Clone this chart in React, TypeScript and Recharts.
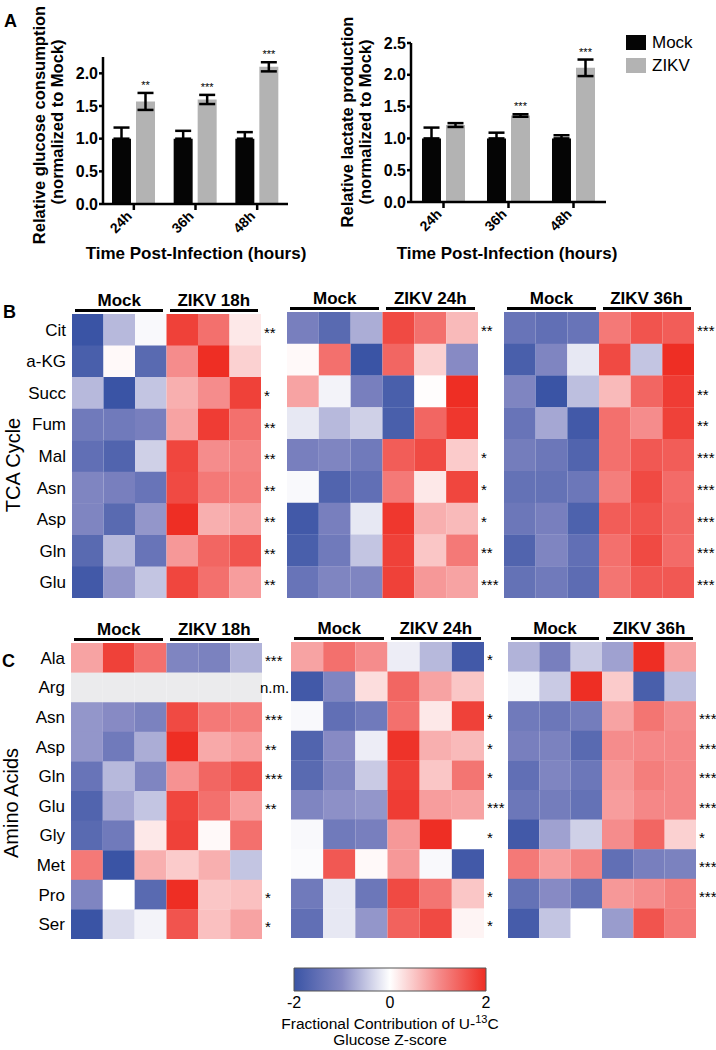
import React from 'react';
import { BarChart, Bar, XAxis, YAxis, ErrorBar, LabelList, Legend, Cell } from 'recharts';

const FONT = "'Liberation Sans', Arial, Helvetica, sans-serif";

// ---- panel A data ----
const times = ['24h', '36h', '48h'];
const glucoseMock = [1, 1, 1];
const glucoseMockErr = [0.17, 0.12, 0.1];
const glucoseZikv = [1.57, 1.6, 2.1];
const glucoseZikvErr = [0.13, 0.07, 0.07];
const glucoseStars = ['**', '***', '***'];
const glucoseTicks = [0, 0.5, 1, 1.5, 2];

const lactateMock = [1, 1, 1];
const lactateMockErr = [0.17, 0.09, 0.05];
const lactateZikv = [1.21, 1.36, 2.11];
const lactateZikvErr = [0.03, 0.02, 0.13];
const lactateStars = ['', '***', '***'];
const lactateTicks = [0, 0.5, 1, 1.5, 2, 2.5];

// ---- panel B / C heatmap z-scores (3 mock + 3 ZIKV replicates per row) ----
const tcaRows = ['Cit', 'a-KG', 'Succ', 'Fum', 'Mal', 'Asn', 'Asp', 'Gln', 'Glu'];
const aaRows = ['Ala', 'Arg', 'Asn', 'Asp', 'Gln', 'Glu', 'Gly', 'Met', 'Pro', 'Ser'];

const tca18 = [
  [-2.0, -0.6, -0.05, 1.8, 1.3, 0.2],
  [-1.8, 0.05, -1.6, 1.0, 2.0, 0.4],
  [-0.6, -2.0, -0.5, 0.7, 1.0, 1.8],
  [-1.3, -1.3, -1.2, 0.8, 1.85, 1.3],
  [-1.5, -1.7, -0.4, 1.75, 1.0, 1.1],
  [-1.1, -1.2, -1.4, 1.7, 1.2, 1.15],
  [-1.1, -1.6, -0.9, 2.0, 0.7, 0.8],
  [-1.6, -0.6, -1.4, 0.9, 1.4, 1.6],
  [-1.9, -0.9, -0.5, 1.75, 1.3, 0.85],
];
const tca18Stars = ['**', '', '*', '**', '**', '**', '**', '**', '**'];

const tca24 = [
  [-1.2, -1.6, -0.7, 1.7, 1.3, 0.6],
  [0.05, 1.3, -2.0, 1.4, 0.4, -1.0],
  [0.8, -0.1, -1.2, -1.8, 0.02, 2.0],
  [-0.2, -0.6, -0.4, -1.8, 1.4, 1.9],
  [-1.2, -1.1, -1.3, 1.5, 1.7, 0.45],
  [-0.05, -1.7, -1.5, 1.2, 0.2, 1.75],
  [-1.9, -1.2, -0.2, 1.9, 0.7, 0.6],
  [-1.8, -1.3, -0.5, 1.8, 0.5, 1.2],
  [-1.4, -1.1, -1.1, 1.8, 0.9, 0.8],
];
const tca24Stars = ['**', '', '', '', '*', '*', '*', '**', '***'];

const tca36 = [
  [-1.4, -1.5, -1.4, 1.2, 1.6, 1.5],
  [-1.8, -1.1, -0.2, 1.7, -0.5, 2.0],
  [-1.1, -2.0, -0.55, 0.6, 1.4, 1.85],
  [-1.4, -0.75, -1.9, 1.3, 1.0, 1.8],
  [-1.25, -1.35, -1.7, 1.3, 1.55, 1.5],
  [-1.45, -1.45, -1.35, 1.15, 1.7, 1.35],
  [-1.35, -1.2, -1.75, 1.5, 1.6, 1.4],
  [-1.7, -1.1, -1.5, 1.3, 1.7, 1.35],
  [-1.45, -1.3, -1.55, 1.25, 1.55, 1.55],
];
const tca36Stars = ['***', '', '**', '**', '***', '***', '***', '***', '***'];

const aa18 = [
  [0.8, 1.8, 1.3, -1.1, -1.15, -0.65],
  [null, null, null, null, null, null],
  [-0.9, -1.0, -1.15, 1.7, 1.2, 1.15],
  [-0.9, -1.3, -0.7, 2.0, 0.75, 0.85],
  [-1.4, -0.6, -1.1, 0.95, 1.4, 1.6],
  [-1.7, -0.75, -0.5, 1.75, 1.3, 0.85],
  [-1.6, -1.3, 0.2, 1.8, 0.05, 1.3],
  [1.2, -2.0, 0.7, 0.45, 0.7, -0.5],
  [-1.1, 0.0, -1.6, 2.0, 0.5, 0.55],
  [-2.0, -0.3, -0.1, 1.6, 0.55, 0.8],
];
const aa18Stars = ['***', 'n.m.', '***', '**', '***', '**', '', '', '*', '*'];

const aa24 = [
  [0.8, 1.3, 1.0, -0.15, -0.6, -1.9],
  [-1.9, -1.1, 0.3, 1.4, 0.8, 0.5],
  [-0.05, -1.5, -1.3, 1.3, 0.2, 1.8],
  [-1.7, -1.0, -0.15, 1.95, 0.7, 0.6],
  [-1.6, -1.1, -0.45, 1.8, 0.5, 1.25],
  [-1.1, -0.95, -0.9, 1.85, 0.85, 0.8],
  [-0.05, -1.3, -1.2, 0.9, 2.0, 0.0],
  [-0.03, 1.55, 0.05, 0.9, -0.05, -1.9],
  [-1.3, -0.2, -1.35, 1.7, 1.25, 0.5],
  [-1.5, -0.2, -0.9, 1.45, 1.7, 0.1],
];
const aa24Stars = ['*', '', '*', '*', '*', '***', '*', '', '*', '*'];

const aa36 = [
  [-0.65, -1.2, -0.45, -0.8, 2.0, 0.8],
  [-0.08, -0.45, 2.0, 0.45, -1.8, -0.55],
  [-1.3, -1.35, -1.25, 0.8, 1.25, 1.0],
  [-1.2, -1.15, -1.6, 1.0, 1.05, 1.05],
  [-1.5, -1.1, -1.35, 0.9, 1.15, 1.05],
  [-1.35, -1.25, -1.45, 0.85, 1.05, 1.05],
  [-1.9, -0.8, -0.4, 1.0, 1.4, 0.4],
  [1.2, 0.85, 1.1, -1.5, -1.2, -1.15],
  [-1.45, -1.0, -1.45, 0.9, 1.0, 1.15],
  [-1.85, -0.5, 0.0, -0.85, 1.6, 1.2],
];
const aa36Stars = ['', '', '***', '***', '***', '***', '*', '***', '***', ''];

const cbTicks = [-2, 0, 2];
const cbMarks = [-1.25, 0.12, 1.48];

// blue - white - red colour map, z in [-2, 2]
const STOPS: [number, number[]][] = [
  [-2, [58, 84, 165]],
  [-1, [135, 138, 196]],
  [0, [255, 255, 255]],
  [1, [245, 140, 140]],
  [2, [238, 46, 36]],
];
function zColor(v: number | null) {
  if (v === null || v === undefined) return '#ebebed';
  const z = Math.max(-2, Math.min(2, v));
  for (let i = 0; i < STOPS.length - 1; i++) {
    const [a, ca] = STOPS[i];
    const [b, cb] = STOPS[i + 1];
    if (z <= b) {
      const t = (z - a) / (b - a);
      const c = ca.map((x, k) => Math.round(x + (cb[k] - x) * t));
      return `rgb(${c[0]},${c[1]},${c[2]})`;
    }
  }
  return 'rgb(238,46,36)';
}

// ---- small text helpers ----
function T({ x, y, size, bold, anchor = 'start', children }: any) {
  const tx = anchor === 'middle' ? '-50%' : anchor === 'end' ? '-100%' : '0';
  return (
    <div
      style={{
        position: 'absolute', left: x, top: y - 0.8465 * size, fontSize: size,
        lineHeight: `${size}px`, fontWeight: bold ? 700 : 400, whiteSpace: 'nowrap',
        transform: `translateX(${tx})`,
      }}
    >
      {children}
    </div>
  );
}

function VT({ cx, cy, size, bold, children }: any) {
  return (
    <div
      style={{
        position: 'absolute', left: cx, top: cy, fontSize: size, lineHeight: `${size}px`,
        fontWeight: bold ? 700 : 400, whiteSpace: 'nowrap',
        transform: 'translate(-50%, -50%) rotate(-90deg)',
      }}
    >
      {children}
    </div>
  );
}

const box = (p: any) => (p.viewBox && p.viewBox.width !== undefined ? p.viewBox : p);

// ---- panel A bar chart ----
const axisStroke = { stroke: '#000', strokeWidth: 2.5 };

const RotTick = (p: any) => (
  <g transform={`translate(${p.x - 1},${p.y + 5})`}>
    <text transform="rotate(-45)" textAnchor="end" fontSize={14} fontWeight={700} fill="#000">
      {p.payload.value}
    </text>
  </g>
);

function BarPanel({ left, width, mock, mockErr, zikv, zikvErr, stars, domainMax, ticks, margin, yWidth, legend }: any) {
  const data = times.map((t, i) => ({
    time: t, mock: mock[i], mockErr: [0, mockErr[i]], zikv: zikv[i], zikvErr: zikvErr[i], star: stars[i],
  }));
  const starLabel = (p: any) => {
    const i = p.index ?? 0;
    if (!stars[i]) return null;
    const b = box(p);
    const ppu = b.height / zikv[i];
    return (
      <text x={b.x + b.width / 2} y={b.y - zikvErr[i] * ppu - 4} textAnchor="middle" fontSize={11} fill="#000">
        {stars[i]}
      </text>
    );
  };
  return (
    <div style={{ position: 'absolute', left, top: 0 }}>
      <BarChart width={width} height={260} data={data} margin={margin} barSize={19} barGap={5}>
        <XAxis dataKey="time" axisLine={axisStroke} tickLine={axisStroke} tickSize={6} height={40} tick={<RotTick />} interval={0} />
        <YAxis
          domain={[0, domainMax]} ticks={ticks} width={yWidth} axisLine={axisStroke} tickLine={axisStroke}
          tickSize={4} tickMargin={1} tickFormatter={(v: number) => v.toFixed(1)}
          tick={{ fontSize: 16, fontWeight: 700, fill: '#000' }} interval={0}
        />
        <Bar dataKey="mock" name="Mock" fill="#050505" isAnimationActive={false}>
          <ErrorBar dataKey="mockErr" width={8} stroke="#000" strokeWidth={2.5} direction="y" />
        </Bar>
        <Bar dataKey="zikv" name="ZIKV" fill="#b3b3b3" isAnimationActive={false}>
          <ErrorBar dataKey="zikvErr" width={8} stroke="#000" strokeWidth={2.5} direction="y" />
          <LabelList dataKey="star" content={starLabel} />
        </Bar>
        {legend && (
          <Legend
            layout="horizontal" align="center" verticalAlign="middle"
            wrapperStyle={{ position: 'absolute', left: 306, top: 31, width: 90, height: 46 }}
            content={(lp: any) => (
              <div>
                {(lp.payload || []).map((it: any) => (
                  <div key={it.value} style={{ display: 'flex', alignItems: 'center', height: 23, fontSize: 17 }}>
                    <span style={{ display: 'inline-block', width: 20, height: 15, background: it.color, marginRight: 6 }} />
                    <span>{it.value}</span>
                  </div>
                ))}
              </div>
            )}
          />
        )}
      </BarChart>
    </div>
  );
}

// ---- heatmap block ----
const cols = [0, 1, 2, 3, 4, 5];

const heatStar = (p: any) => {
  if (!p.value) return null;
  const b = box(p);
  const nm = p.value === 'n.m.';
  return (
    <text x={b.x + b.width + (nm ? -2 : 3)} y={b.y + b.height / 2 + (nm ? 5 : 8)} fontSize={15} fill="#000">
      {p.value}
    </text>
  );
};

function Heat({ left, top, width, height, names, z, stars, labelWidth = 0 }: any) {
  const data = names.map((n: string, i: number) => ({
    name: n, c0: 1, c1: 1, c2: 1, c3: 1, c4: 1, c5: 1, star: stars[i],
  }));
  return (
    <div style={{ position: 'absolute', left: left - labelWidth, top }}>
      <BarChart
        layout="vertical" width={labelWidth + width + 40} height={height} data={data}
        margin={{ top: 0, right: 40, bottom: 0, left: 0 }} barCategoryGap={0}
      >
        <XAxis type="number" domain={[0, 6]} hide />
        <YAxis
          type="category" dataKey="name" hide={!labelWidth} width={labelWidth} tickLine={false} axisLine={false}
          tickSize={4} tickMargin={2} tick={{ fontSize: 17, fill: '#000' }} interval={0}
        />
        {cols.map((c) => (
          <Bar key={c} dataKey={`c${c}`} stackId="h" isAnimationActive={false}>
            {data.map((_: any, r: number) => (
              <Cell key={r} fill={zColor(z[r][c])} />
            ))}
            {c === 5 && <LabelList dataKey="star" content={heatStar} />}
          </Bar>
        ))}
      </BarChart>
    </div>
  );
}

function GroupHeader({ left, width, lineY, label }: any) {
  const half = width / 2;
  return (
    <>
      <div style={{ position: 'absolute', left: left + 3, top: lineY, width: half - 6.5, height: 2.5, background: '#000' }} />
      <div style={{ position: 'absolute', left: left + half + 3.5, top: lineY, width: half - 6.5, height: 2.5, background: '#000' }} />
      <T x={left + half / 2} y={lineY - 3} size={17} bold anchor="middle">Mock</T>
      <T x={left + half * 1.5} y={lineY - 3} size={17} bold anchor="middle">{label}</T>
    </>
  );
}

// ---- colour bar ----
function ColorBar() {
  const data = [{ name: 'z', range: [-2, 2] }];
  const gstops = [0, 0.125, 0.25, 0.375, 0.5, 0.625, 0.75, 0.875, 1];
  return (
    <div style={{ position: 'absolute', left: 274, top: 960 }}>
      <BarChart
        layout="vertical" width={232} height={70} data={data}
        margin={{ top: 8, right: 20, bottom: 9, left: 20 }} barCategoryGap={0}
      >
        <defs>
          <linearGradient id="zgrad" x1="0" y1="0" x2="1" y2="0">
            {gstops.map((o) => (
              <stop key={o} offset={o} stopColor={zColor(-2 + 4 * o)} />
            ))}
          </linearGradient>
        </defs>
        <XAxis
          xAxisId="lab" type="number" domain={[-2, 2]} ticks={cbTicks} tickLine={false} axisLine={false}
          height={30} tickSize={4} tickMargin={2} tick={{ fontSize: 16, fill: '#000' }}
        />
        <XAxis xAxisId="top" type="number" orientation="top" mirror domain={[-2, 2]} ticks={cbMarks} tick={false} axisLine={false} tickSize={4} tickLine={{ stroke: '#333' }} />
        <XAxis xAxisId="bot" type="number" mirror domain={[-2, 2]} ticks={cbMarks} tick={false} axisLine={false} tickSize={4} tickLine={{ stroke: '#333' }} />
        <YAxis type="category" dataKey="name" hide />
        <Bar dataKey="range" xAxisId="lab" fill="url(#zgrad)" stroke="#555" strokeWidth={1} isAnimationActive={false} />
      </BarChart>
    </div>
  );
}

export default function App() {
  return (
    <div
      style={{
        position: 'absolute', left: 0, top: 0, width: 716, height: 1050, background: '#fff',
        overflow: 'hidden', fontFamily: FONT, color: '#000',
      }}
    >
      {/* Panel A */}
      <T x={4} y={27} size={18} bold>A</T>
      <BarPanel
        left={0} width={300} mock={glucoseMock} mockErr={glucoseMockErr} zikv={glucoseZikv}
        zikvErr={glucoseZikvErr} stars={glucoseStars} domainMax={2.25} ticks={glucoseTicks}
        margin={{ top: 57, right: 12, bottom: 16, left: 0 }} yWidth={103}
      />
      <VT cx={39} cy={125} size={16.5} bold>Relative glucose consumption</VT>
      <VT cx={57} cy={122} size={16.5} bold>(normalized to Mock)</VT>
      <T x={196} y={259} size={17} bold anchor="middle">Time Post-Infection (hours)</T>

      <BarPanel
        left={320} width={396} mock={lactateMock} mockErr={lactateMockErr} zikv={lactateZikv}
        zikvErr={lactateZikvErr} stars={lactateStars} domainMax={2.5} ticks={lactateTicks}
        margin={{ top: 43, right: 110, bottom: 18, left: 0 }} yWidth={91} legend
      />
      <VT cx={347} cy={122} size={16.5} bold>Relative lactate production</VT>
      <VT cx={365} cy={122} size={16.5} bold>(normalized to Mock)</VT>
      <T x={507} y={259} size={17} bold anchor="middle">Time Post-Infection (hours)</T>

      {/* Panel B */}
      <T x={3} y={318} size={18} bold>B</T>
      <VT cx={13} cy={465} size={20}>TCA Cycle</VT>
      <GroupHeader left={72} width={189} lineY={309} label="ZIKV 18h" />
      <GroupHeader left={287} width={191} lineY={307} label="ZIKV 24h" />
      <GroupHeader left={504} width={190} lineY={307} label="ZIKV 36h" />
      <Heat left={72} top={314} width={189} height={284} names={tcaRows} z={tca18} stars={tca18Stars} labelWidth={72} />
      <Heat left={287} top={312} width={191} height={286} names={tcaRows} z={tca24} stars={tca24Stars} />
      <Heat left={504} top={312} width={190} height={286} names={tcaRows} z={tca36} stars={tca36Stars} />

      {/* Panel C */}
      <T x={2} y={667} size={18} bold>C</T>
      <VT cx={11} cy={803} size={20}>Amino Acids</VT>
      <GroupHeader left={71} width={191} lineY={638} label="ZIKV 18h" />
      <GroupHeader left={291} width={193} lineY={637} label="ZIKV 24h" />
      <GroupHeader left={508} width={188} lineY={637} label="ZIKV 36h" />
      <Heat left={71} top={643} width={191} height={296} names={aaRows} z={aa18} stars={aa18Stars} labelWidth={71} />
      <Heat left={291} top={642} width={193} height={296} names={aaRows} z={aa24} stars={aa24Stars} />
      <Heat left={508} top={642} width={188} height={296} names={aaRows} z={aa36} stars={aa36Stars} />

      {/* colour scale */}
      <ColorBar />
      <div
        style={{
          position: 'absolute', left: 390, top: 1016, transform: 'translateX(-50%)', fontSize: 15.5,
          lineHeight: '16px', textAlign: 'center', whiteSpace: 'nowrap',
        }}
      >
        Fractional Contribution of U-<sup style={{ fontSize: 11, lineHeight: 0, verticalAlign: 'super' }}>13</sup>C
        <br />
        Glucose Z-score
      </div>
    </div>
  );
}
